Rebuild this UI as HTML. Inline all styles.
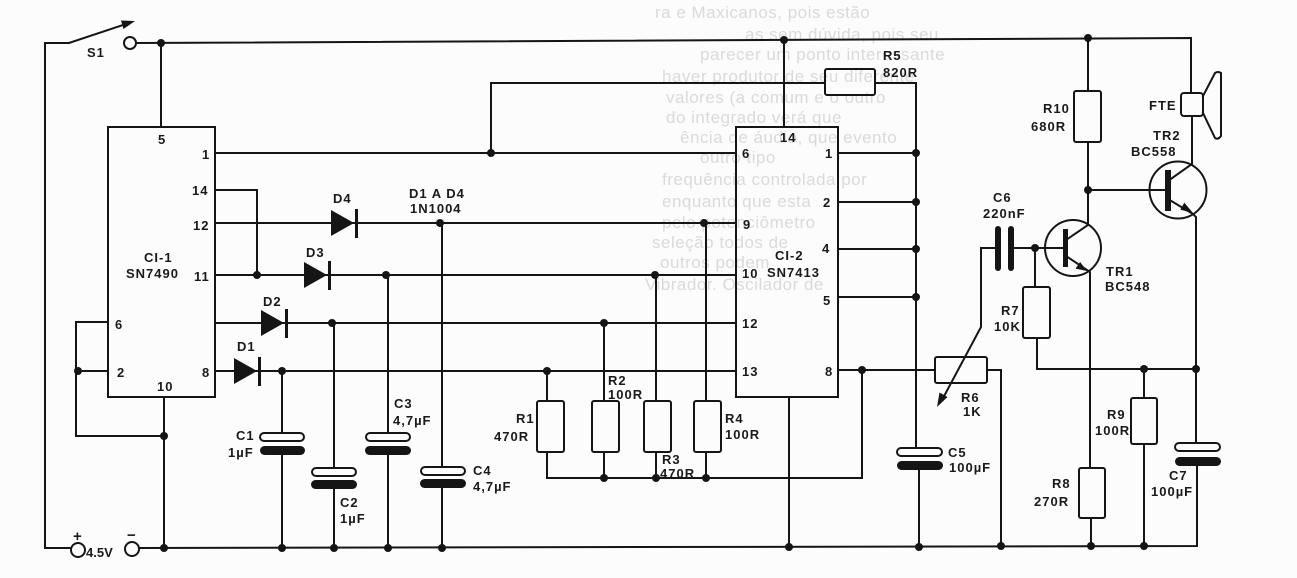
<!DOCTYPE html>
<html><head><meta charset="utf-8"><style>
html,body{margin:0;padding:0;background:#fcfcfc;}
svg{display:block;}
text{font-family:"Liberation Sans",sans-serif;font-size:13px;font-weight:bold;fill:#1a1a1a;letter-spacing:1px;}
.bt{font-size:17px;font-weight:normal;fill:#dadada;letter-spacing:0.5px;}
</style></head><body>
<svg width="1297" height="578" viewBox="0 0 1297 578" xmlns="http://www.w3.org/2000/svg">
<rect width="1297" height="578" fill="#fcfcfc"/>
<!-- faint bleed-through text -->
<g>
<text class="bt" x="655" y="18">ra e Maxicanos, pois estão</text>
<text class="bt" x="745" y="40">as sem dúvida, pois seu</text>
<text class="bt" x="700" y="60">parecer um ponto interessante</text>
<text class="bt" x="662" y="82">haver produtor de seu diferente</text>
<text class="bt" x="666" y="103">valores (a comum e o outro</text>
<text class="bt" x="666" y="123">do integrado verá que</text>
<text class="bt" x="680" y="143">ência de áudio, que evento</text>
<text class="bt" x="700" y="163">outro tipo</text>
<text class="bt" x="662" y="185">frequência controlada por</text>
<text class="bt" x="662" y="207">enquanto que esta</text>
<text class="bt" x="662" y="228">pelo potenciômetro</text>
<text class="bt" x="652" y="248">seleção todos de</text>
<text class="bt" x="660" y="268">outros podem</text>
<text class="bt" x="645" y="290">Vibrador. Oscilador de</text>
</g>

<g stroke="#151515" stroke-width="2" fill="none" stroke-linecap="square">
<!-- left loop, switch -->
<path d="M69,43 H45 V548 H71"/>
<line x1="69" y1="43" x2="126" y2="24"/>
<!-- top rail -->
<path d="M137,43 L1191,38 V93"/>
<line x1="161" y1="43" x2="161" y2="127"/>
<!-- CI-1 -->
<rect x="108" y="127" width="107" height="270"/>
<path d="M215,153 H736"/>
<path d="M215,190 H257 V275"/>
<path d="M215,223 H736"/>
<path d="M215,275 H736"/>
<path d="M215,323 H736"/>
<path d="M215,371 H736"/>
<path d="M108,322 H76 V436 H164"/>
<path d="M108,371 H76"/>
<path d="M164,397 V548"/>
<!-- bottom rail -->
<path d="M139,548 L1197,546 V465"/>
<!-- left caps verticals -->
<path d="M282,371 V433 M282,455 V548"/>
<path d="M334,323 V468 M334,488 V548"/>
<path d="M388,275 V433 M388,454 V548"/>
<path d="M442,223 V467 M442,487 V548"/>
<!-- resistor verticals -->
<path d="M547,371 V401 M547,452 V478 H862 V370"/>
<path d="M604,323 V401 M604,452 V478"/>
<path d="M656,275 V401 M656,452 V478"/>
<path d="M706,223 V401 M706,452 V478"/>
<rect x="537" y="401" width="27" height="51" rx="2"/>
<rect x="592" y="401" width="27" height="51" rx="2"/>
<rect x="644" y="401" width="27" height="51" rx="2"/>
<rect x="694" y="401" width="27" height="51" rx="2"/>
<!-- CI-2 -->
<rect x="736" y="127" width="102" height="270"/>
<line x1="784" y1="40" x2="784" y2="127"/>
<line x1="789" y1="397" x2="789" y2="547"/>
<path d="M838,153 H916 M838,202 H916 M838,249 H916 M838,297 H916"/>
<path d="M838,370 H935 M987,370 H1001 V546"/>
<rect x="935" y="357" width="52" height="26" rx="2"/>
<!-- R5 -->
<path d="M491,153 V83 H825 M875,83 H916 V448 M919,469 V547"/>
<rect x="825" y="69" width="50" height="26" rx="2"/>
<!-- R10, TR1 -->
<path d="M1088,38 V91 M1088,142 V225 L1066,240"/>
<rect x="1074" y="91" width="27" height="51" rx="2"/>
<circle cx="1073" cy="248" r="28"/>
<path d="M1066,256 L1090,272 V468"/>
<path d="M1035,248 H1066"/>
<path d="M1014,248 H1035"/>
<path d="M981,248 H996"/>
<path d="M981,248 V327 L942,400"/>
<!-- R7 -->
<path d="M1035,248 V287 M1037,338 V369 H1197"/>
<rect x="1023" y="287" width="27" height="51" rx="2"/>
<!-- R8 -->
<rect x="1079" y="468" width="26" height="50" rx="2"/>
<path d="M1091,518 V546"/>
<!-- R9 -->
<path d="M1144,369 V398 M1144,444 V546"/>
<rect x="1131" y="398" width="26" height="46" rx="2"/>
<!-- TR2 -->
<circle cx="1178" cy="190" r="28.5"/>
<path d="M1088,190 H1168"/>
<path d="M1168,181 L1192,164 V116"/>
<path d="M1168,199 L1193,214 L1196,217 V443"/>
<!-- speaker -->
<rect x="1181" y="93" width="22" height="23" rx="3"/>
<path d="M1203,96 L1215,73 Q1218,71 1221,73 V136 Q1218,140 1215,138 L1203,113"/>
<!-- terminals -->
<circle cx="78" cy="550" r="7" fill="#fcfcfc"/>
<circle cx="132" cy="549" r="7" fill="#fcfcfc"/>
<circle cx="130" cy="43" r="6" fill="#fcfcfc"/>
<!-- capacitors hollow plates -->
<rect x="260" y="433" width="44" height="8" rx="4" fill="#fcfcfc"/>
<rect x="312" y="468" width="44" height="8" rx="4" fill="#fcfcfc"/>
<rect x="366" y="433" width="44" height="8" rx="4" fill="#fcfcfc"/>
<rect x="421" y="467" width="44" height="8" rx="4" fill="#fcfcfc"/>
<rect x="897" y="448" width="45" height="8" rx="4" fill="#fcfcfc"/>
<rect x="1175" y="443" width="45" height="8" rx="4" fill="#fcfcfc"/>
</g>

<g fill="#151515">
<!-- capacitor filled plates -->
<rect x="260" y="446" width="45" height="9" rx="4.5"/>
<rect x="311" y="480" width="46" height="9" rx="4.5"/>
<rect x="365" y="446" width="46" height="9" rx="4.5"/>
<rect x="420" y="479" width="46" height="9" rx="4.5"/>
<rect x="897" y="461" width="46" height="9" rx="4.5"/>
<rect x="1175" y="457" width="46" height="9" rx="4.5"/>
<!-- C6 plates -->
<rect x="995" y="226" width="6" height="45" rx="3"/>
<rect x="1008" y="226" width="6" height="45" rx="3"/>
<!-- transistor bases -->
<rect x="1063" y="229" width="5" height="38"/>
<rect x="1165" y="170" width="6" height="41"/>
<!-- diodes -->
<polygon points="331,210 331,236 354,223"/>
<rect x="355" y="209" width="3" height="29"/>
<polygon points="304,262 304,288 327,275"/>
<rect x="328" y="261" width="3" height="29"/>
<polygon points="261,310 261,336 284,323"/>
<rect x="285" y="309" width="3" height="29"/>
<polygon points="234,358 234,384 257,371"/>
<rect x="258" y="357" width="3" height="29"/>
<!-- arrowheads -->
<polygon points="135,21 123.5,29 121,20.5"/>
<polygon points="1087,271 1075.5,268.6 1080.1,262"/>
<polygon points="1193,213 1180.3,209.6 1184.3,202.6"/>
<polygon points="937,407 947.5,397 939.5,392.5"/>
<!-- junction dots -->
<circle cx="161" cy="43" r="4"/>
<circle cx="784" cy="40" r="4"/>
<circle cx="1088" cy="38" r="4"/>
<circle cx="491" cy="153" r="4"/>
<circle cx="916" cy="153" r="4"/>
<circle cx="916" cy="202" r="4"/>
<circle cx="916" cy="249" r="4"/>
<circle cx="916" cy="297" r="4"/>
<circle cx="257" cy="275" r="4"/>
<circle cx="440" cy="223" r="4"/>
<circle cx="704" cy="223" r="4"/>
<circle cx="386" cy="275" r="4"/>
<circle cx="655" cy="275" r="4"/>
<circle cx="332" cy="323" r="4"/>
<circle cx="604" cy="323" r="4"/>
<circle cx="282" cy="371" r="4"/>
<circle cx="547" cy="371" r="4"/>
<circle cx="78" cy="371" r="4"/>
<circle cx="164" cy="436" r="4"/>
<circle cx="164" cy="548" r="4"/>
<circle cx="282" cy="548" r="4"/>
<circle cx="334" cy="548" r="4"/>
<circle cx="388" cy="548" r="4"/>
<circle cx="442" cy="548" r="4"/>
<circle cx="789" cy="547" r="4"/>
<circle cx="919" cy="547" r="4"/>
<circle cx="1001" cy="546" r="4"/>
<circle cx="1091" cy="546" r="4"/>
<circle cx="1144" cy="546" r="4"/>
<circle cx="862" cy="370" r="4"/>
<circle cx="604" cy="478" r="4"/>
<circle cx="656" cy="478" r="4"/>
<circle cx="706" cy="478" r="4"/>
<circle cx="1088" cy="190" r="4"/>
<circle cx="1035" cy="248" r="4"/>
<circle cx="1144" cy="369" r="4"/>
<circle cx="1196" cy="369" r="4"/>
</g>

<!-- labels -->
<g>
<text x="87" y="57">S1</text>
<text x="158" y="144">5</text>
<text x="202" y="159">1</text>
<text x="192" y="195">14</text>
<text x="193" y="230">12</text>
<text x="194" y="281">11</text>
<text x="144" y="262">CI-1</text>
<text x="126" y="278">SN7490</text>
<text x="115" y="329">6</text>
<text x="117" y="377">2</text>
<text x="157" y="391">10</text>
<text x="202" y="377">8</text>
<text x="333" y="203">D4</text>
<text x="306" y="257">D3</text>
<text x="263" y="306">D2</text>
<text x="237" y="351">D1</text>
<text x="409" y="198">D1 A D4</text>
<text x="410" y="213">1N1004</text>
<text x="236" y="440">C1</text>
<text x="228" y="457">1µF</text>
<text x="340" y="507">C2</text>
<text x="340" y="523">1µF</text>
<text x="394" y="408">C3</text>
<text x="393" y="425">4,7µF</text>
<text x="473" y="475">C4</text>
<text x="473" y="491">4,7µF</text>
<text x="73" y="541" style="font-size:15px">+</text>
<text x="127" y="540" style="font-size:15px">−</text>
<text x="86" y="557" style="letter-spacing:0">4.5V</text>
<text x="780" y="142">14</text>
<text x="742" y="158">6</text>
<text x="743" y="229">9</text>
<text x="742" y="278">10</text>
<text x="742" y="328">12</text>
<text x="742" y="376">13</text>
<text x="825" y="158">1</text>
<text x="823" y="207">2</text>
<text x="822" y="253">4</text>
<text x="823" y="305">5</text>
<text x="825" y="376">8</text>
<text x="775" y="260">CI-2</text>
<text x="767" y="277">SN7413</text>
<text x="516" y="423">R1</text>
<text x="494" y="441">470R</text>
<text x="608" y="385">R2</text>
<text x="608" y="399">100R</text>
<text x="662" y="464">R3</text>
<text x="660" y="478">470R</text>
<text x="725" y="423">R4</text>
<text x="725" y="439">100R</text>
<text x="883" y="60">R5</text>
<text x="883" y="77">820R</text>
<text x="1043" y="113">R10</text>
<text x="1031" y="131">680R</text>
<text x="1149" y="110">FTE</text>
<text x="1153" y="140">TR2</text>
<text x="1131" y="156">BC558</text>
<text x="993" y="202">C6</text>
<text x="983" y="218">220nF</text>
<text x="1106" y="276">TR1</text>
<text x="1105" y="291">BC548</text>
<text x="1001" y="315">R7</text>
<text x="994" y="331">10K</text>
<text x="961" y="402">R6</text>
<text x="963" y="416">1K</text>
<text x="948" y="457">C5</text>
<text x="949" y="472">100µF</text>
<text x="1107" y="419">R9</text>
<text x="1095" y="435">100R</text>
<text x="1052" y="488">R8</text>
<text x="1034" y="506">270R</text>
<text x="1169" y="480">C7</text>
<text x="1151" y="496">100µF</text>
</g>
</svg>
</body></html>
